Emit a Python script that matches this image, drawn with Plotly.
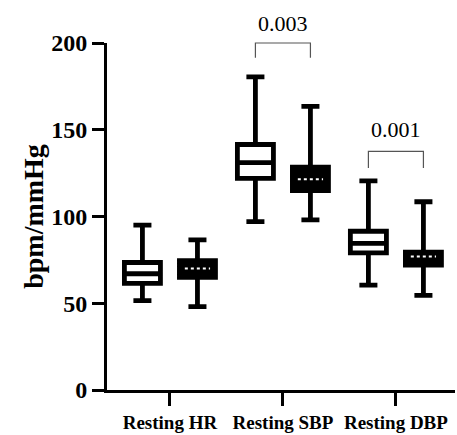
import plotly.graph_objects as go

categories = ["Resting HR", "Resting SBP", "Resting DBP"]

g1_upper = [95, 180.5, 120.5]
g1_q3 = [73.5, 141.5, 91.5]
g1_median = [67, 131, 84.5]
g1_q1 = [61.5, 122, 79]
g1_lower = [51.5, 97, 60.5]

g2_upper = [86.5, 163.5, 108.5]
g2_q3 = [74.5, 128.5, 79.5]
g2_median = [70, 121.5, 77]
g2_q1 = [65, 115, 72]
g2_lower = [48, 98, 54.5]

# significance brackets
brackets_cat = [1, 2]
brackets_top = [200, 137.5]
brackets_end = [191.5, 128]
brackets_label = ["0.003", "0.001"]
brackets_label_y = [211.5, 150]

YMAX = 200
BOXGAP = 0.026
GROUPGAP = 0.345
FONT = "Liberation Serif"

fig = go.Figure()
fig.add_trace(go.Box(
    x=categories, q1=g1_q1, median=g1_median, q3=g1_q3,
    lowerfence=g1_lower, upperfence=g1_upper,
    fillcolor="white", line=dict(color="black", width=4.8),
    whiskerwidth=0.5, boxpoints=False, name="g1", showlegend=False,
))
fig.add_trace(go.Box(
    x=categories, q1=g2_q1, median=g2_median, q3=g2_q3,
    lowerfence=g2_lower, upperfence=g2_upper,
    fillcolor="black", line=dict(color="black", width=4.8),
    whiskerwidth=0.5, boxpoints=False, name="g2", showlegend=False,
))

off = (1 - BOXGAP) / 4
halfw = off * (1 - GROUPGAP)

shapes = []
for i, m in enumerate(g2_median):
    shapes.append(dict(type="line", xref="x", yref="y",
                       x0=i + off - halfw * 0.7, x1=i + off + halfw * 0.7,
                       y0=m, y1=m, line=dict(color="white", width=2, dash="dot")))

annotations = []
for c, top, end, lab, ly in zip(brackets_cat, brackets_top, brackets_end,
                                brackets_label, brackets_label_y):
    xa, xb = c - off, c + off
    shapes.append(dict(type="path", xref="x", yref="paper",
                       path=f"M {xa},{end / YMAX} L {xa},{top / YMAX} L {xb},{top / YMAX} L {xb},{end / YMAX}",
                       line=dict(color="#555555", width=1.2)))
    annotations.append(dict(x=c, y=ly / YMAX, xref="x", yref="paper", text=lab,
                            showarrow=False, yanchor="middle",
                            font=dict(family=FONT, size=22, color="black")))

fig.update_layout(
    width=457, height=435,
    margin=dict(l=107, r=2, t=43, b=42),
    paper_bgcolor="white", plot_bgcolor="white",
    boxmode="group", boxgap=BOXGAP, boxgroupgap=GROUPGAP,
    shapes=shapes, annotations=annotations,
    font=dict(family=FONT, color="black"),
)
fig.update_xaxes(
    type="category", range=[-0.557, 2.523],
    showline=True, linecolor="black", linewidth=3,
    ticks="outside", ticklen=13, tickwidth=3, tickcolor="black",
    tickfont=dict(family=FONT, size=19, weight="bold", color="black"),
    showgrid=False, zeroline=False,
)
fig.update_yaxes(
    range=[0, YMAX], tickvals=[0, 50, 100, 150, 200],
    showline=True, linecolor="black", linewidth=3,
    ticks="outside", ticklen=12, tickwidth=3, tickcolor="black",
    tickfont=dict(family=FONT, size=24, weight="bold", color="black"),
    title=dict(text="bpm/mmHg", font=dict(family=FONT, size=28, weight="bold", color="black"), standoff=0),
    showgrid=False, zeroline=False,
)

fig.write_html("out.html", config={"displayModeBar": False},
               post_script="document.body.style.margin='0';document.body.style.overflow='hidden';")
